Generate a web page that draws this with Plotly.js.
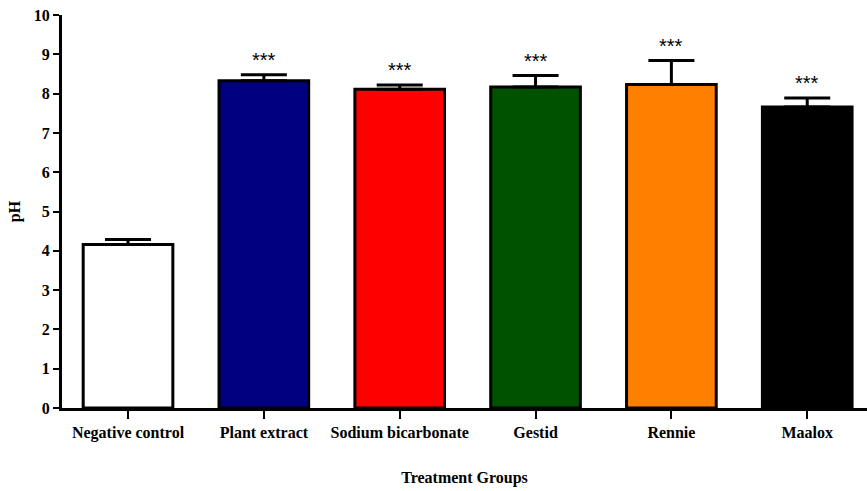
<!DOCTYPE html>
<html>
<head>
<meta charset="utf-8">
<script src="https://cdn.plot.ly/plotly-3.0.1.min.js"></script>
<style>html,body{margin:0;padding:0;background:#fff;}#chart{width:867px;height:491px;}</style>
</head>
<body>
<div id="chart"></div>
<script>
const categories = ["Negative control", "Plant extract", "Sodium bicarbonate", "Gestid", "Rennie", "Maalox"];
const meanPH = [4.16, 8.33, 8.11, 8.17, 8.23, 7.66];
const errPH = [0.13, 0.15, 0.11, 0.29, 0.61, 0.23];
const significance = ["", "***", "***", "***", "***", "***"];
const barColors = ["#FFFFFF", "#000080", "#FF0000", "#005200", "#FF8000", "#000000"];

const serif = "'Liberation Serif', 'Times New Roman', serif";

const trace = {
  type: 'bar',
  x: categories,
  y: meanPH,
  width: 0.66,
  marker: { color: barColors, line: { color: '#000', width: 3 } },
  error_y: {
    type: 'data', array: errPH, arrayminus: errPH.map(() => 0), symmetric: false,
    color: '#000', thickness: 3, width: 23
  },
  hoverinfo: 'skip'
};

const annotations = categories.map((c, i) => ({
  x: c, y: meanPH[i] + errPH[i], xref: 'x', yref: 'y',
  text: significance[i], showarrow: false, yanchor: 'bottom', yshift: 2,
  font: { family: "'Liberation Sans', Arial, sans-serif", size: 20, color: '#000' }
})).filter(a => a.text);

const layout = {
  width: 867, height: 491,
  margin: { l: 62, r: 0, t: 15, b: 83 },
  paper_bgcolor: '#fff', plot_bgcolor: '#fff',
  showlegend: false,
  font: { family: serif, color: '#000' },
  xaxis: {
    type: 'category', range: [-0.486, 5.44],
    showline: true, linecolor: '#000', linewidth: 3,
    ticks: 'outside', ticklen: 8, tickwidth: 2, tickcolor: '#000',
    tickfont: { family: serif, size: 16, weight: 'bold' },
    showgrid: false, zeroline: false,
    title: { text: 'Treatment Groups', font: { family: serif, size: 16, weight: 'bold' }, standoff: 31 }
  },
  yaxis: {
    range: [0, 10], dtick: 1, tick0: 0,
    showline: true, linecolor: '#000', linewidth: 3,
    ticks: 'outside', ticklen: 6, tickwidth: 2, tickcolor: '#000',
    tickfont: { family: serif, size: 16, weight: 'bold' },
    showgrid: false, zeroline: false,
    title: { text: 'pH', font: { family: serif, size: 16, weight: 'bold' }, standoff: 10 }
  },
  annotations: annotations
};

Plotly.newPlot('chart', [trace], layout, { staticPlot: true, displayModeBar: false });
</script>
</body>
</html>
